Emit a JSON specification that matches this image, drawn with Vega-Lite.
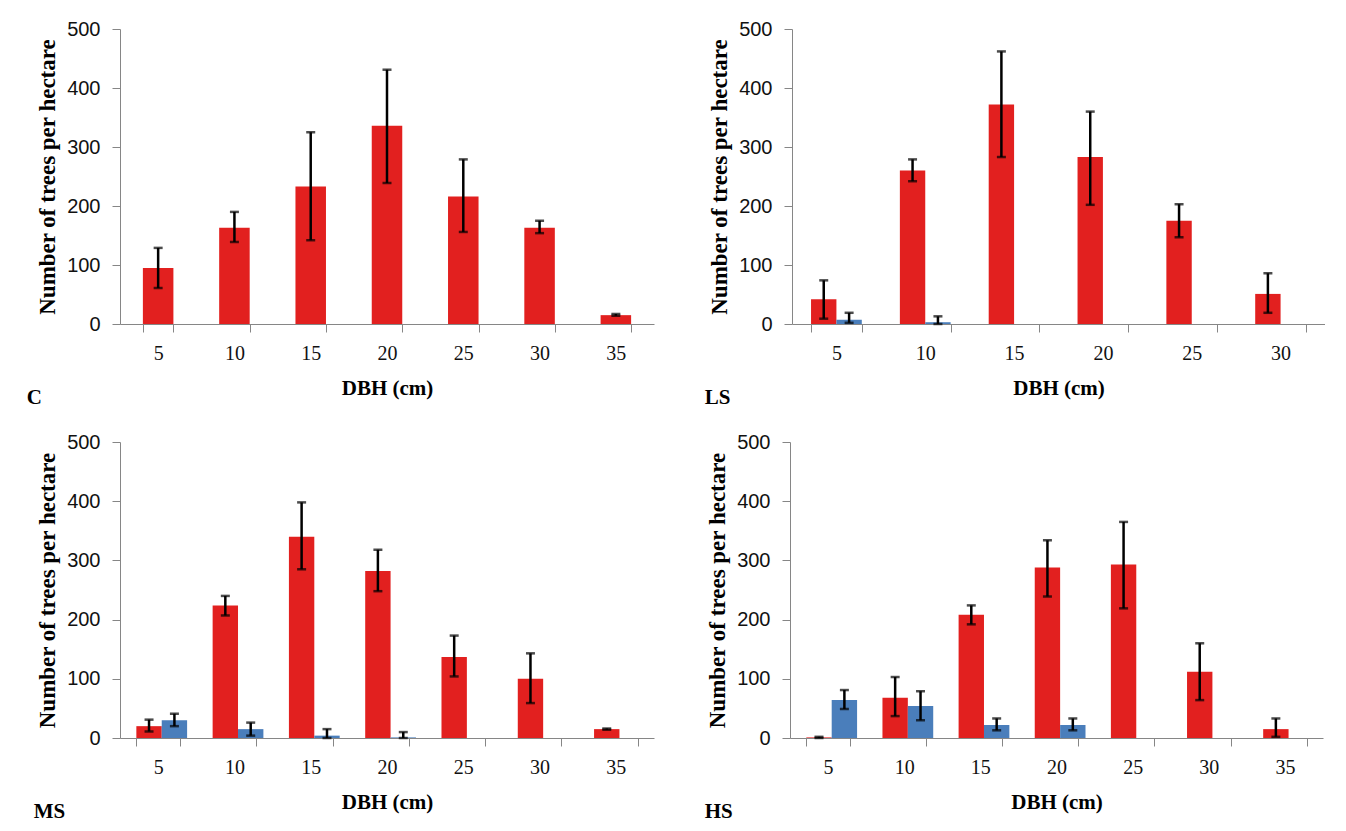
{
  "$schema": "https://vega.github.io/schema/vega-lite/v6.json",
  "background": "white",
  "padding": {"left": 26, "top": 19, "right": 0, "bottom": 0},
  "spacing": 24,
  "datasets": {
    "C": [
      {"d": 5, "s": "a", "v": 95, "lo": 61, "hi": 129},
      {"d": 10, "s": "a", "v": 163, "lo": 139, "hi": 190},
      {"d": 15, "s": "a", "v": 233, "lo": 142, "hi": 325},
      {"d": 20, "s": "a", "v": 336, "lo": 239, "hi": 431},
      {"d": 25, "s": "a", "v": 216, "lo": 156, "hi": 279},
      {"d": 30, "s": "a", "v": 163, "lo": 154, "hi": 175},
      {"d": 35, "s": "a", "v": 15, "lo": 14, "hi": 17}
    ],
    "LS": [
      {"d": 5, "s": "a", "v": 42, "lo": 9, "hi": 74},
      {"d": 10, "s": "a", "v": 260, "lo": 242, "hi": 279},
      {"d": 15, "s": "a", "v": 372, "lo": 283, "hi": 462},
      {"d": 20, "s": "a", "v": 283, "lo": 202, "hi": 360},
      {"d": 25, "s": "a", "v": 175, "lo": 147, "hi": 203},
      {"d": 30, "s": "a", "v": 51, "lo": 19, "hi": 86},
      {"d": 5, "s": "b", "v": 7, "lo": 2, "hi": 19},
      {"d": 10, "s": "b", "v": 3, "lo": 0, "hi": 13}
    ],
    "MS": [
      {"d": 5, "s": "a", "v": 20, "lo": 11, "hi": 31},
      {"d": 10, "s": "a", "v": 224, "lo": 207, "hi": 240},
      {"d": 15, "s": "a", "v": 340, "lo": 285, "hi": 398},
      {"d": 20, "s": "a", "v": 282, "lo": 248, "hi": 318},
      {"d": 25, "s": "a", "v": 137, "lo": 104, "hi": 173},
      {"d": 30, "s": "a", "v": 100, "lo": 59, "hi": 143},
      {"d": 35, "s": "a", "v": 15, "lo": 14, "hi": 16},
      {"d": 5, "s": "b", "v": 30, "lo": 20, "hi": 41},
      {"d": 10, "s": "b", "v": 15, "lo": 4, "hi": 26},
      {"d": 15, "s": "b", "v": 4, "lo": 0, "hi": 15},
      {"d": 20, "s": "b", "v": 1, "lo": 0, "hi": 10}
    ],
    "HS": [
      {"d": 5, "s": "a", "v": 1, "lo": 0, "hi": 2},
      {"d": 10, "s": "a", "v": 68, "lo": 37, "hi": 103},
      {"d": 15, "s": "a", "v": 208, "lo": 192, "hi": 224},
      {"d": 20, "s": "a", "v": 288, "lo": 239, "hi": 334},
      {"d": 25, "s": "a", "v": 293, "lo": 219, "hi": 365},
      {"d": 30, "s": "a", "v": 112, "lo": 64, "hi": 160},
      {"d": 35, "s": "a", "v": 15, "lo": 2, "hi": 33},
      {"d": 5, "s": "b", "v": 64, "lo": 49, "hi": 81},
      {"d": 10, "s": "b", "v": 54, "lo": 30, "hi": 79},
      {"d": 15, "s": "b", "v": 22, "lo": 13, "hi": 33},
      {"d": 20, "s": "b", "v": 22, "lo": 13, "hi": 33}
    ]
  },
  "config": {
    "font": "Liberation Serif",
    "view": {"stroke": null},
    "axis": {
      "domainColor": "#868686",
      "tickColor": "#868686",
      "tickSize": 8,
      "grid": false,
      "labelColor": "#111111",
      "titleColor": "#000000"
    },
    "axisX": {
      "labelAngle": 0,
      "tickBand": "extent",
      "labelFont": "Liberation Serif",
      "labelFontSize": 20,
      "labelPadding": 11,
      "titleFont": "Liberation Serif",
      "titleFontWeight": "bold",
      "titleFontSize": 21,
      "titlePadding": 14
    },
    "axisY": {
      "labelFont": "Liberation Sans",
      "labelFontSize": 20,
      "labelPadding": 12,
      "titleFont": "Liberation Serif",
      "titleFontWeight": "bold",
      "titleFontSize": 23,
      "titlePadding": 7
    },
    "title": {
      "font": "Liberation Serif",
      "fontWeight": "bold",
      "fontSize": 21,
      "color": "#000000",
      "orient": "bottom",
      "anchor": "start",
      "frame": "bounds",
      "offset": -11
    },
    "tick": {"thickness": 2.5, "size": 9, "color": "#000000"},
    "rule": {"strokeWidth": 2.5, "color": "#000000"}
  },
  "vconcat": [
    {
      "spacing": 50,
      "hconcat": [
        {
          "width": 534, "height": 295,
          "title": {"text": "C", "dx": -10},
          "data": {"name": "C"},
          "encoding": {
            "x": {"field": "d", "type": "ordinal", "title": "DBH (cm)", "scale": {"paddingInner": 0.6, "paddingOuter": 0.3}, "axis": {"labelFont": "Liberation Serif", "titleFont": "Liberation Serif"}}
          },
          "layer": [
            {"mark": {"type": "bar", "color": "#E2201F"},
             "encoding": {"y": {"field": "v", "type": "quantitative", "title": "Number of trees per hectare", "scale": {"domain": [0, 500]}, "axis": {"values": [0, 100, 200, 300, 400, 500], "titleFont": "Liberation Serif", "labelFont": "Liberation Sans"}}}},
            {"mark": "rule", "encoding": {"y": {"field": "lo", "type": "quantitative", "title": "Number of trees per hectare"}, "y2": {"field": "hi"}}},
            {"mark": "tick", "encoding": {"y": {"field": "lo", "type": "quantitative", "title": "Number of trees per hectare"}}},
            {"mark": "tick", "encoding": {"y": {"field": "hi", "type": "quantitative", "title": "Number of trees per hectare"}}}
          ]
        },
        {
          "width": 533, "height": 295,
          "title": {"text": "LS", "dx": -4},
          "data": {"name": "LS"},
          "encoding": {
            "x": {"field": "d", "type": "ordinal", "title": "DBH (cm)", "scale": {"paddingInner": 0.4286, "paddingOuter": 0.2143}, "axis": {"labelFont": "Liberation Serif", "titleFont": "Liberation Serif"}},
            "xOffset": {"field": "s", "type": "nominal", "scale": {"domain": ["a", "b"]}}
          },
          "layer": [
            {"mark": "bar",
             "encoding": {"y": {"field": "v", "type": "quantitative", "title": "Number of trees per hectare", "scale": {"domain": [0, 500]}, "axis": {"values": [0, 100, 200, 300, 400, 500], "titleFont": "Liberation Serif", "labelFont": "Liberation Sans"}},
                          "color": {"field": "s", "type": "nominal", "scale": {"domain": ["a", "b"], "range": ["#E2201F", "#4A7EBB"]}, "legend": null}}},
            {"mark": "rule", "encoding": {"y": {"field": "lo", "type": "quantitative", "title": "Number of trees per hectare"}, "y2": {"field": "hi"}}},
            {"mark": "tick", "encoding": {"y": {"field": "lo", "type": "quantitative", "title": "Number of trees per hectare"}}},
            {"mark": "tick", "encoding": {"y": {"field": "hi", "type": "quantitative", "title": "Number of trees per hectare"}}}
          ]
        }
      ]
    },
    {
      "spacing": 50,
      "hconcat": [
        {
          "width": 534, "height": 296,
          "title": {"text": "MS", "dx": -3},
          "data": {"name": "MS"},
          "encoding": {
            "x": {"field": "d", "type": "ordinal", "title": "DBH (cm)", "scale": {"paddingInner": 0.4286, "paddingOuter": 0.2143}, "axis": {"labelFont": "Liberation Serif", "titleFont": "Liberation Serif"}},
            "xOffset": {"field": "s", "type": "nominal", "scale": {"domain": ["a", "b"]}}
          },
          "layer": [
            {"mark": "bar",
             "encoding": {"y": {"field": "v", "type": "quantitative", "title": "Number of trees per hectare", "scale": {"domain": [0, 500]}, "axis": {"values": [0, 100, 200, 300, 400, 500], "titleFont": "Liberation Serif", "labelFont": "Liberation Sans"}},
                          "color": {"field": "s", "type": "nominal", "scale": {"domain": ["a", "b"], "range": ["#E2201F", "#4A7EBB"]}, "legend": null}}},
            {"mark": "rule", "encoding": {"y": {"field": "lo", "type": "quantitative", "title": "Number of trees per hectare"}, "y2": {"field": "hi"}}},
            {"mark": "tick", "encoding": {"y": {"field": "lo", "type": "quantitative", "title": "Number of trees per hectare"}}},
            {"mark": "tick", "encoding": {"y": {"field": "hi", "type": "quantitative", "title": "Number of trees per hectare"}}}
          ]
        },
        {
          "width": 533, "height": 296,
          "title": {"text": "HS", "dx": -2},
          "data": {"name": "HS"},
          "encoding": {
            "x": {"field": "d", "type": "ordinal", "title": "DBH (cm)", "scale": {"paddingInner": 0.4286, "paddingOuter": 0.2143}, "axis": {"labelFont": "Liberation Serif", "titleFont": "Liberation Serif"}},
            "xOffset": {"field": "s", "type": "nominal", "scale": {"domain": ["a", "b"]}}
          },
          "layer": [
            {"mark": "bar",
             "encoding": {"y": {"field": "v", "type": "quantitative", "title": "Number of trees per hectare", "scale": {"domain": [0, 500]}, "axis": {"values": [0, 100, 200, 300, 400, 500], "titleFont": "Liberation Serif", "labelFont": "Liberation Sans"}},
                          "color": {"field": "s", "type": "nominal", "scale": {"domain": ["a", "b"], "range": ["#E2201F", "#4A7EBB"]}, "legend": null}}},
            {"mark": "rule", "encoding": {"y": {"field": "lo", "type": "quantitative", "title": "Number of trees per hectare"}, "y2": {"field": "hi"}}},
            {"mark": "tick", "encoding": {"y": {"field": "lo", "type": "quantitative", "title": "Number of trees per hectare"}}},
            {"mark": "tick", "encoding": {"y": {"field": "hi", "type": "quantitative", "title": "Number of trees per hectare"}}}
          ]
        }
      ]
    }
  ]
}
